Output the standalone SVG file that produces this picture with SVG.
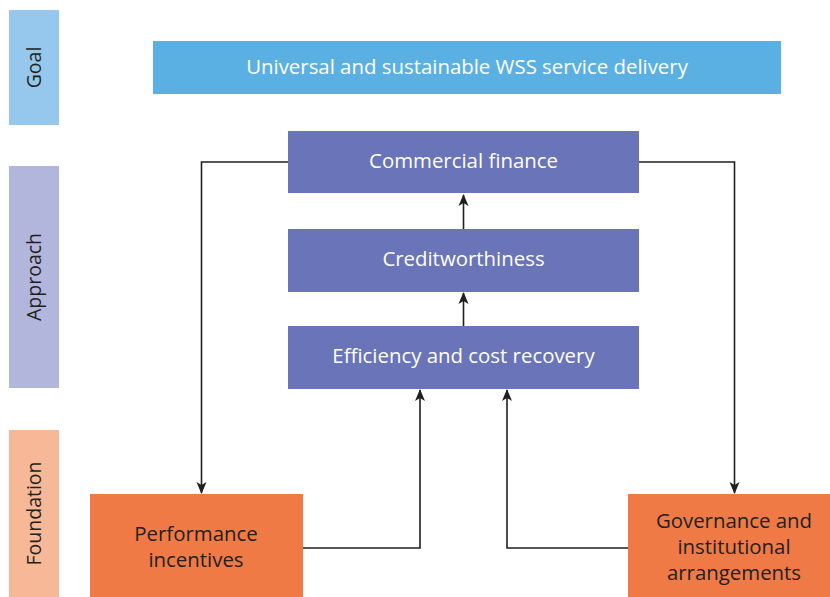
<svg xmlns="http://www.w3.org/2000/svg" width="830" height="597" viewBox="0 0 830 597">
<style>
text{font-family:"Open Sans","Noto Sans",sans-serif;font-size:20.4px;text-anchor:middle}
.w{fill:#ffffff}
.d{fill:#231F20}
.lab{fill:#231F20;font-size:19.5px}
.ln{fill:none;stroke:#231F20;stroke-width:1.6}
</style>
<defs>
<marker id="ah" markerWidth="12" markerHeight="12" viewBox="0 0 12 12" refX="11" refY="6" orient="auto" markerUnits="userSpaceOnUse">
<path d="M0,1 L12,6 L0,11 L3,6 Z" fill="#231F20"/>
</marker>
</defs>
<rect width="830" height="597" fill="#ffffff"/>
<g id="bands">
<g id="band-goal"><rect x="9" y="10" width="50" height="115" fill="#95C8EC"/><text class="lab" transform="translate(41,67.5) rotate(-90)">Goal</text></g>
<g id="band-approach"><rect x="9" y="166" width="50" height="222" fill="#B3B6DC"/><text class="lab" transform="translate(41,277) rotate(-90)">Approach</text></g>
<g id="band-foundation"><rect x="9" y="430" width="50" height="167" fill="#F6B896"/><text class="lab" transform="translate(41,513.5) rotate(-90)">Foundation</text></g>
</g>
<g id="goal"><rect x="153" y="41" width="628" height="53" fill="#5AB0E3"/><text class="w" x="467" y="74">Universal and sustainable WSS service delivery</text></g>
<g id="commercial"><rect x="288" y="131" width="351" height="62" fill="#6A74B8"/><text class="w" x="463.5" y="168">Commercial finance</text></g>
<g id="credit"><rect x="288" y="229" width="351" height="63" fill="#6A74B8"/><text class="w" x="463.5" y="266">Creditworthiness</text></g>
<g id="efficiency"><rect x="288" y="326" width="351" height="63" fill="#6A74B8"/><text class="w" x="463.5" y="363">Efficiency and cost recovery</text></g>
<g id="performance"><rect x="90" y="494" width="213" height="103" fill="#EF7A45"/><text class="d" x="196" y="541">Performance</text><text class="d" x="196" y="567">incentives</text></g>
<g id="governance"><rect x="628" y="494" width="202" height="103" fill="#EF7A45"/><text class="d" x="734" y="528">Governance and</text><text class="d" x="734" y="554">institutional</text><text class="d" x="734" y="580">arrangements</text></g>
<g id="connectors">
<path class="ln" d="M463.5,229 V195" marker-end="url(#ah)"/>
<path class="ln" d="M463.5,326 V293" marker-end="url(#ah)"/>
<path class="ln" d="M288,162 H201.5 V493" marker-end="url(#ah)"/>
<path class="ln" d="M639,162 H734.5 V493" marker-end="url(#ah)"/>
<path class="ln" d="M303,548 H420 V390" marker-end="url(#ah)"/>
<path class="ln" d="M628,548 H507 V390" marker-end="url(#ah)"/>
</g>
</svg>
